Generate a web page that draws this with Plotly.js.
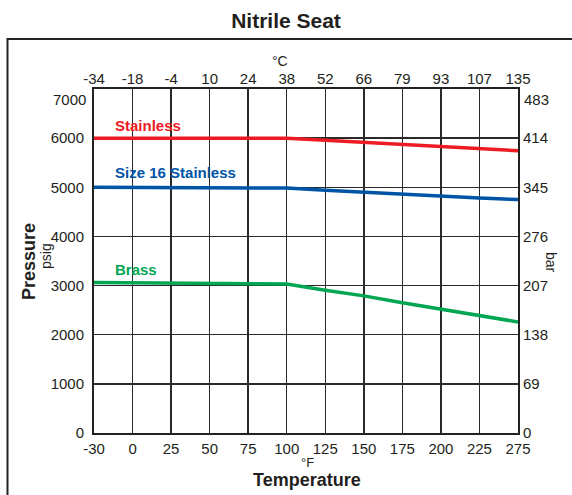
<!DOCTYPE html>
<html>
<head>
<meta charset="utf-8">
<script src="https://cdn.plot.ly/plotly-3.0.1.min.js"></script>
<style>html,body{margin:0;padding:0;background:#fff;}#chart{width:572px;height:495px;}</style>
</head>
<body>
<div id="chart"></div>
<script>
// Temperature categories (°F) and matching °C labels
const tempF = ["-30","0","25","50","75","100","125","150","175","200","225","275"];
const tempC = ["-34","-18","-4","10","24","38","52","66","79","93","107","135"];
// Pressure ratings (psig)
const stainless = [6000,6000,6000,6000,6000,6000,5955,5912,5871,5830,5790,5745];
const size16 = [5000,5000,5000,5000,5000,4985,4940,4898,4857,4816,4783,4750];
const brass = [3065,3060,3055,3045,3040,3030,2906,2790,2652,2517,2380,2260];
// Axis ticks
const psiTicks = [0,1000,2000,3000,4000,5000,6000,7000];
const barTicks = [0,69,138,207,276,345,414,483];

const FONT = 'Liberation Sans, Arial, sans-serif';
const TXT = '#231f20';
const colors = {stainless:'#ed1c24', size16:'#0054a6', brass:'#00a651'};

const traces = [
  {x: tempF, y: stainless, type:'scatter', mode:'lines', line:{color:colors.stainless, width:3.5}, hoverinfo:'skip', showlegend:false},
  {x: tempF, y: size16, type:'scatter', mode:'lines', line:{color:colors.size16, width:3.5}, hoverinfo:'skip', showlegend:false},
  {x: tempF, y: brass, type:'scatter', mode:'lines', line:{color:colors.brass, width:3.5}, hoverinfo:'skip', showlegend:false},
  {x: tempC, y: tempC.map(()=>0), xaxis:'x2', yaxis:'y2', type:'scatter', mode:'markers', marker:{opacity:0}, hoverinfo:'skip', showlegend:false}
];

const L=94, R=518, T=89, B=433, W=572, H=495;
const px = v => (v-L)/(R-L);
const py = v => (B-v)/(B-T);
const tickFont = {family:FONT, size:15, color:TXT};

// top tick labels (7000 / 483) sit slightly below the top edge in the reference
const psiMain = psiTicks.slice(0, -1), psiTop = psiTicks[psiTicks.length-1];
const barMain = barTicks.slice(0, -1), barTop = barTicks[barTicks.length-1];

const layout = {
  width: W, height: H,
  margin: {l:L, r:W-R, t:T, b:H-B, pad:0},
  paper_bgcolor:'#fff', plot_bgcolor:'#fff',
  title: {text:'<b>Nitrile Seat</b>', font:{family:FONT, size:21, color:TXT}, x:0.5, xanchor:'center', y:1-21/H, yanchor:'middle'},
  xaxis: {type:'category', range:[0,11], showgrid:true, gridcolor:'#2a2a2a', gridwidth:1.5,
    showline:true, linecolor:'#222', linewidth:2, mirror:true, ticks:'', tickfont:tickFont,
    ticklabelstandoff:1, zeroline:false, fixedrange:true},
  xaxis2: {type:'category', overlaying:'x', side:'top', range:[0,11], showgrid:false, showline:false, ticks:'',
    tickfont:tickFont, ticklabelstandoff:1, fixedrange:true},
  yaxis: {range:[0,psiTop], tickvals:psiMain, ticktext:psiMain.map(String), showgrid:true, gridcolor:'#2a2a2a', gridwidth:1.5,
    showline:true, linecolor:'#222', linewidth:2, mirror:true, ticks:'', tickfont:tickFont,
    ticklabelstandoff:5, zeroline:false, fixedrange:true},
  yaxis2: {overlaying:'y', side:'right', range:[0,barTop], tickvals:barMain, ticktext:barMain.map(String), showgrid:false,
    showline:false, ticks:'', zeroline:false, tickfont:tickFont, ticklabelstandoff:4, fixedrange:true},
  shapes: [
    {type:'rect', xref:'paper', yref:'paper', x0:px(7.5), x1:px(585), y0:py(505), y1:py(39), line:{color:'#222', width:2}, fillcolor:'rgba(0,0,0,0)', layer:'below'}
  ],
  annotations: [
    {text:String(psiTop), xref:'paper', yref:'y', x:px(88), y:psiTop, yshift:-10, xanchor:'right', yanchor:'middle', showarrow:false, font:tickFont},
    {text:String(barTop), xref:'paper', yref:'y2', x:px(522), y:barTop, yshift:-10, xanchor:'left', yanchor:'middle', showarrow:false, font:tickFont},
    {text:'<b>Stainless</b>', xref:'x', yref:'paper', x:0.48, y:py(126), xanchor:'left', yanchor:'middle', showarrow:false, font:{family:FONT, size:15, color:colors.stainless}},
    {text:'<b>Size 16 Stainless</b>', xref:'x', yref:'paper', x:0.48, y:py(172), xanchor:'left', yanchor:'middle', showarrow:false, font:{family:FONT, size:15, color:colors.size16}},
    {text:'<b>Brass</b>', xref:'x', yref:'paper', x:0.48, y:py(269), xanchor:'left', yanchor:'middle', showarrow:false, font:{family:FONT, size:15, color:colors.brass}},
    {text:'°C', xref:'paper', yref:'paper', x:px(280), y:py(61), xanchor:'center', yanchor:'middle', showarrow:false, font:{family:FONT, size:14, color:TXT}},
    {text:'°F', xref:'paper', yref:'paper', x:px(307), y:py(462), xanchor:'center', yanchor:'middle', showarrow:false, font:{family:FONT, size:13, color:TXT}},
    {text:'<b>Temperature</b>', xref:'paper', yref:'paper', x:px(307), y:py(480), xanchor:'center', yanchor:'middle', showarrow:false, font:{family:FONT, size:18, color:TXT}},
    {text:'<b>Pressure</b>', xref:'paper', yref:'paper', x:px(29), y:py(262), xanchor:'center', yanchor:'middle', textangle:-90, showarrow:false, font:{family:FONT, size:18, color:TXT}},
    {text:'psig', xref:'paper', yref:'paper', x:px(46), y:py(256), xanchor:'center', yanchor:'middle', textangle:-90, showarrow:false, font:{family:FONT, size:14, color:TXT}},
    {text:'bar', xref:'paper', yref:'paper', x:px(551), y:py(262), xanchor:'center', yanchor:'middle', textangle:90, showarrow:false, font:{family:FONT, size:14, color:TXT}}
  ]
};

Plotly.newPlot('chart', traces, layout, {staticPlot:true, displayModeBar:false});
</script>
</body>
</html>
